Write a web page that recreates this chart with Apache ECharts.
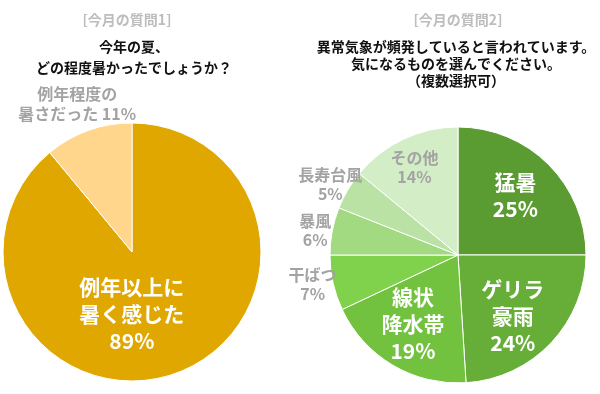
<!DOCTYPE html>
<html><head><meta charset="utf-8">
<script src="https://cdn.jsdelivr.net/npm/echarts@6/dist/echarts.min.js"></script>
<style>html,body{margin:0;padding:0;background:#fff}#c{width:600px;height:394px}</style>
</head><body><div id="c"></div>
<script>
// Data
const q1Categories = ['例年以上に\n暑く感じた', '例年程度の\n暑さだった'];
const q1Values = [89, 11];
const q2Categories = ['猛暑', 'ゲリラ\n豪雨', '線状\n降水帯', '干ばつ', '暴風', '長寿台風', 'その他'];
const q2Values = [25, 24, 19, 7, 6, 5, 14];
const q1Header = '[今月の質問1]';
const q1Title = '今年の夏、\nどの程度暑かったでしょうか？';
const q2Header = '[今月の質問2]';
const q2Title = '異常気象が頻発していると言われています。\n気になるものを選んでください。\n（複数選択可）';

// Styles / layout
const FONT = '"Noto Sans CJK JP", "Noto Sans", sans-serif';
const q1Colors = ['#DFA700', '#FFD68C'];
const q2Colors = ['#5B9C32', '#66AE38', '#72C13F', '#80D14C', '#A1DA80', '#BAE2A4', '#D3EDC6'];
const q1Inside = [true, false];
const q2Inside = [true, true, true, false, false, false, false];
const q1Offsets = [[-23, -1], [-32, -85]];
const q2Offsets = [[10, -12], [6, 15], [-11, 11], [-80, 15], [-77, -12], [-70, -36], [-15, -27]];

function mkData(cats, vals, colors, inside, isQ1) {
  return cats.map((n, i) => ({
    name: n, value: vals[i],
    itemStyle: { color: colors[i] },
    label: inside[i] ? {
      color: '#fff', fontSize: 21, fontWeight: 'bold', lineHeight: 27
    } : {
      color: '#A3A3A3', fontSize: 16, fontWeight: 'bold', lineHeight: isQ1 ? 20 : 19,
      formatter: isQ1 ? '{b} {c}%' : '{b}\n{c}%'
    }
  }));
}

function mkLayout(offsets) {
  return function (p) {
    const o = offsets[p.dataIndex];
    return { dx: o[0], dy: o[1] };
  };
}

const chart = echarts.init(document.getElementById('c'), null, { renderer: 'canvas' });
chart.setOption({
  animation: false,
  graphic: [
    { type: 'text', x: 127, y: 20, style: { text: q1Header, textAlign: 'center', textVerticalAlign: 'middle', fontSize: 14, fontWeight: 'bold', fontFamily: FONT, fill: '#BDBDBD' } },
    { type: 'text', x: 134, y: 57, style: { text: q1Title, textAlign: 'center', textVerticalAlign: 'middle', fontSize: 14, fontWeight: 'bold', fontFamily: FONT, fill: '#111', lineHeight: 21 } },
    { type: 'text', x: 458, y: 20, style: { text: q2Header, textAlign: 'center', textVerticalAlign: 'middle', fontSize: 14, fontWeight: 'bold', fontFamily: FONT, fill: '#BDBDBD' } },
    { type: 'text', x: 456, y: 64, style: { text: q2Title, textAlign: 'center', textVerticalAlign: 'middle', fontSize: 14, fontWeight: 'bold', fontFamily: FONT, fill: '#111', lineHeight: 17 } }
  ],
  series: [
    {
      type: 'pie', center: [132, 252], radius: 129, startAngle: 90, clockwise: true,
      avoidLabelOverlap: false, silent: true,
      itemStyle: { borderColor: '#fff', borderWidth: 1 },
      label: { show: true, position: 'inside', fontFamily: FONT, formatter: '{b}\n{c}%' },
      labelLine: { show: false },
      labelLayout: mkLayout(q1Offsets),
      data: mkData(q1Categories, q1Values, q1Colors, q1Inside, true)
    },
    {
      type: 'pie', center: [458, 255], radius: 128, startAngle: 90, clockwise: true,
      avoidLabelOverlap: false, silent: true,
      itemStyle: { borderColor: '#fff', borderWidth: 1 },
      label: { show: true, position: 'inside', fontFamily: FONT, formatter: '{b}\n{c}%' },
      labelLine: { show: false },
      labelLayout: mkLayout(q2Offsets),
      data: mkData(q2Categories, q2Values, q2Colors, q2Inside, false)
    }
  ]
});
</script>
</body></html>
